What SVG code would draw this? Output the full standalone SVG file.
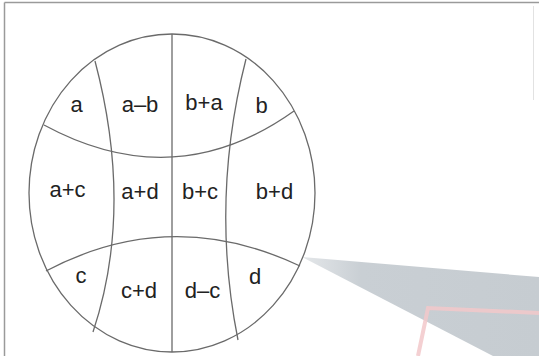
<svg xmlns="http://www.w3.org/2000/svg" width="539" height="356" viewBox="0 0 539 356">
  <defs>
    <linearGradient id="wedgeGrad" x1="302" y1="0" x2="539" y2="0" gradientUnits="userSpaceOnUse">
      <stop offset="0" stop-color="#c9cfd4" stop-opacity="0.5"/>
      <stop offset="0.25" stop-color="#c9cfd4" stop-opacity="1"/>
      <stop offset="1" stop-color="#c6ccd1" stop-opacity="1"/>
    </linearGradient>
  </defs>
  <style>
    .ln { fill: none; stroke: #6a6a6a; stroke-width: 1.3; }
    .lbl { font-family: "Liberation Sans", Arial, sans-serif; font-size: 22px; fill: #222; text-anchor: middle; }
    .frame { stroke: #9a9a9a; stroke-width: 1.5; fill: none; }
  </style>
  <rect width="539" height="356" fill="#ffffff"/>
  <g id="frame">
    <line class="frame" x1="4.5" y1="2.5" x2="539" y2="2.5"/>
    <line class="frame" x1="4.5" y1="2.5" x2="4.5" y2="356"/>
    <line x1="533.5" y1="6" x2="533.5" y2="100" stroke="#e2e2e2" stroke-width="1"/>
  </g>
  <g id="wedge">
    <polygon points="302,257 539,277 539,356 493,356" fill="url(#wedgeGrad)"/>
    <path d="M539,313 L428,308 L418,356" fill="none" stroke="#f2c8ca" stroke-width="4" stroke-opacity="0.85"/>
  </g>
  <g id="connectors">
    <ellipse class="ln" cx="172" cy="193" rx="143" ry="159"/>
    <line class="ln" x1="172" y1="34" x2="172" y2="352"/>
    <path class="ln" d="M95,61 Q134,209 93,332"/>
    <path class="ln" d="M246,59 Q210,200 238,340"/>
    <path class="ln" d="M44,125 Q175,196 294,111"/>
    <path class="ln" d="M46,271 Q171,205 300,266"/>
  </g>
  <g id="node-a"><text class="lbl" x="76.5" y="112">a</text></g>
  <g id="node-a-minus-b"><text class="lbl" x="140" y="112">a–b</text></g>
  <g id="node-b-plus-a"><text class="lbl" x="204" y="110">b+a</text></g>
  <g id="node-b"><text class="lbl" x="261.5" y="112.5">b</text></g>
  <g id="node-a-plus-c"><text class="lbl" x="67.5" y="197">a+c</text></g>
  <g id="node-a-plus-d"><text class="lbl" x="140" y="199">a+d</text></g>
  <g id="node-b-plus-c"><text class="lbl" x="200" y="199">b+c</text></g>
  <g id="node-b-plus-d"><text class="lbl" x="274.5" y="199">b+d</text></g>
  <g id="node-c"><text class="lbl" x="81" y="283">c</text></g>
  <g id="node-c-plus-d"><text class="lbl" x="139" y="298">c+d</text></g>
  <g id="node-d-minus-c"><text class="lbl" x="202.5" y="298">d–c</text></g>
  <g id="node-d"><text class="lbl" x="255" y="284">d</text></g>
</svg>
